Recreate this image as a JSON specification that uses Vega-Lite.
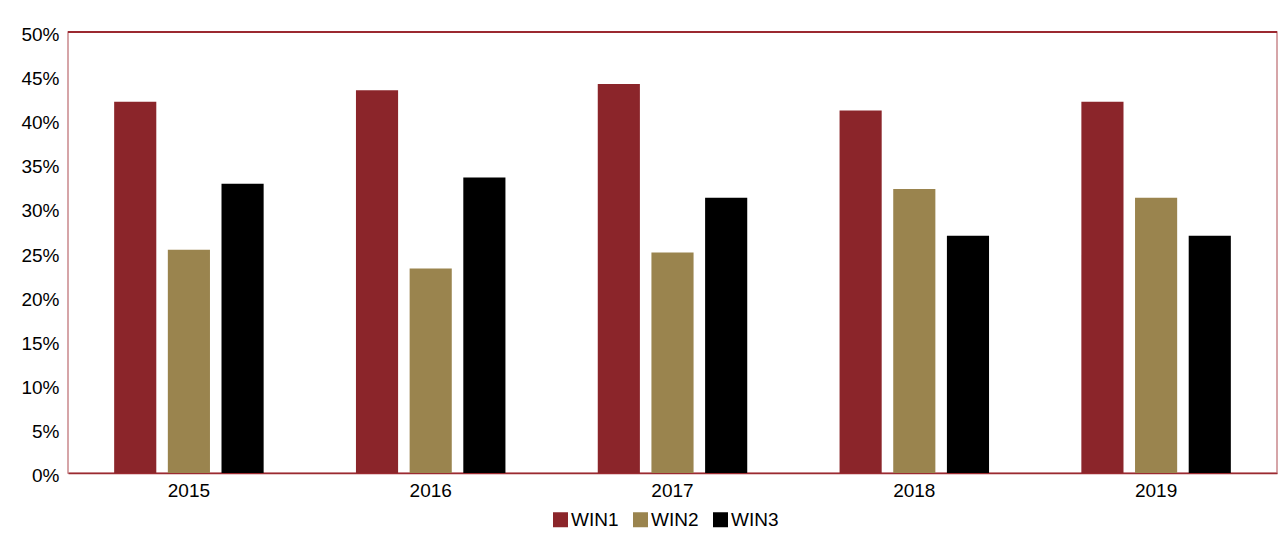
{
  "$schema": "https://vega.github.io/schema/vega-lite/v6.json",
  "width": 1209,
  "height": 441,
  "autosize": {"type": "none"},
  "padding": {"left": 68, "top": 32, "right": 7, "bottom": 61},
  "background": "white",
  "data": {
    "values": [
      {"year": "2015", "series": "WIN1", "value": 0.421},
      {"year": "2015", "series": "WIN2", "value": 0.253},
      {"year": "2015", "series": "WIN3", "value": 0.328},
      {"year": "2016", "series": "WIN1", "value": 0.434},
      {"year": "2016", "series": "WIN2", "value": 0.232},
      {"year": "2016", "series": "WIN3", "value": 0.335},
      {"year": "2017", "series": "WIN1", "value": 0.441},
      {"year": "2017", "series": "WIN2", "value": 0.250},
      {"year": "2017", "series": "WIN3", "value": 0.312},
      {"year": "2018", "series": "WIN1", "value": 0.411},
      {"year": "2018", "series": "WIN2", "value": 0.322},
      {"year": "2018", "series": "WIN3", "value": 0.269},
      {"year": "2019", "series": "WIN1", "value": 0.421},
      {"year": "2019", "series": "WIN2", "value": 0.312},
      {"year": "2019", "series": "WIN3", "value": 0.269}
    ]
  },
  "layer": [
    {
      "mark": {"type": "bar"},
      "encoding": {
        "x": {
          "field": "year",
          "type": "nominal",
          "scale": {"paddingInner": 0, "paddingOuter": 0},
          "axis": {
            "title": null,
            "labelAngle": 0,
            "ticks": false,
            "domainColor": "#9b2a30",
            "domainWidth": 1.5,
            "labelFontSize": 19,
            "labelColor": "#000000",
            "labelPadding": 8
          }
        },
        "xOffset": {
          "field": "series",
          "type": "nominal",
          "scale": {"paddingInner": 0.215, "paddingOuter": 0.86}
        },
        "y": {
          "field": "value",
          "type": "quantitative",
          "scale": {"domain": [0, 0.5]},
          "axis": {
            "title": null,
            "format": ".0%",
            "values": [0, 0.05, 0.1, 0.15, 0.2, 0.25, 0.3, 0.35, 0.4, 0.45, 0.5],
            "grid": false,
            "domain": false,
            "ticks": false,
            "labelPadding": 9,
            "labelOffset": 2.5,
            "labelFontSize": 19,
            "labelColor": "#000000"
          }
        },
        "color": {
          "field": "series",
          "type": "nominal",
          "scale": {"domain": ["WIN1", "WIN2", "WIN3"], "range": ["#8b252a", "#9a844e", "#000000"]},
          "legend": {
            "title": null,
            "orient": "none",
            "legendX": 483,
            "legendY": 478,
            "direction": "horizontal",
            "symbolType": "square",
            "symbolSize": 225,
            "symbolStrokeWidth": 0,
            "symbolOpacity": 1,
            "labelFontSize": 19,
            "labelColor": "#000000",
            "labelOffset": 1,
            "columnPadding": 12
          }
        }
      }
    },
    {
      "mark": {"type": "rule", "color": "#9b2a30", "strokeWidth": 1.5},
      "encoding": {"y": {"datum": 0.5}}
    }
  ],
  "config": {
    "font": "Liberation Sans",
    "view": {"stroke": "#c9888c", "strokeWidth": 1.5}
  }
}
